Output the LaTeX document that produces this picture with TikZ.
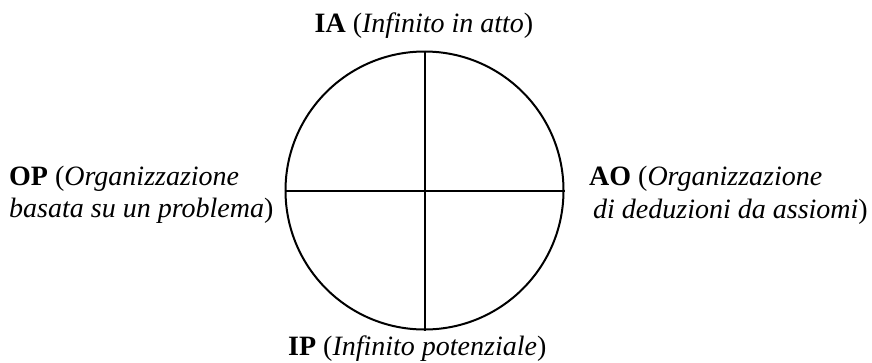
\documentclass[tikz,border=0pt]{standalone}
\usepackage{fontspec}
\setmainfont{Liberation Serif}
\begin{document}
\begin{tikzpicture}[x=1pt,y=-1pt,
  lbl/.style={inner sep=0pt,font=\fontsize{28}{33}\selectfont},
  ln/.style={line width=2pt,black}]
\useasboundingbox (0,0) rectangle (872,362);
\node[ln,draw,circle,minimum size=278pt,inner sep=0pt] (c) at (424.5,190.5) {};
\draw[ln] (c.north) -- (c.south);
\draw[ln] (c.west) -- (c.east);
\node[lbl,anchor=base] (ia) at (424,32) {\textbf{IA} (\textit{Infinito in atto})};
\node[lbl,anchor=base west] (op1) at (9,185) {\textbf{OP} (\textit{Organizzazione}};
\node[lbl,anchor=base west] (op2) at (9,217) {\textit{basata su un problema})};
\node[lbl,anchor=base west] (ao1) at (589,185) {\textbf{AO} (\textit{Organizzazione}};
\node[lbl,anchor=base west] (ao2) at (593,218) {\textit{di deduzioni da assiomi})};
\node[lbl,anchor=base west] (ip) at (288,355) {\textbf{IP} (\textit{Infinito potenziale})};
\end{tikzpicture}
\end{document}
